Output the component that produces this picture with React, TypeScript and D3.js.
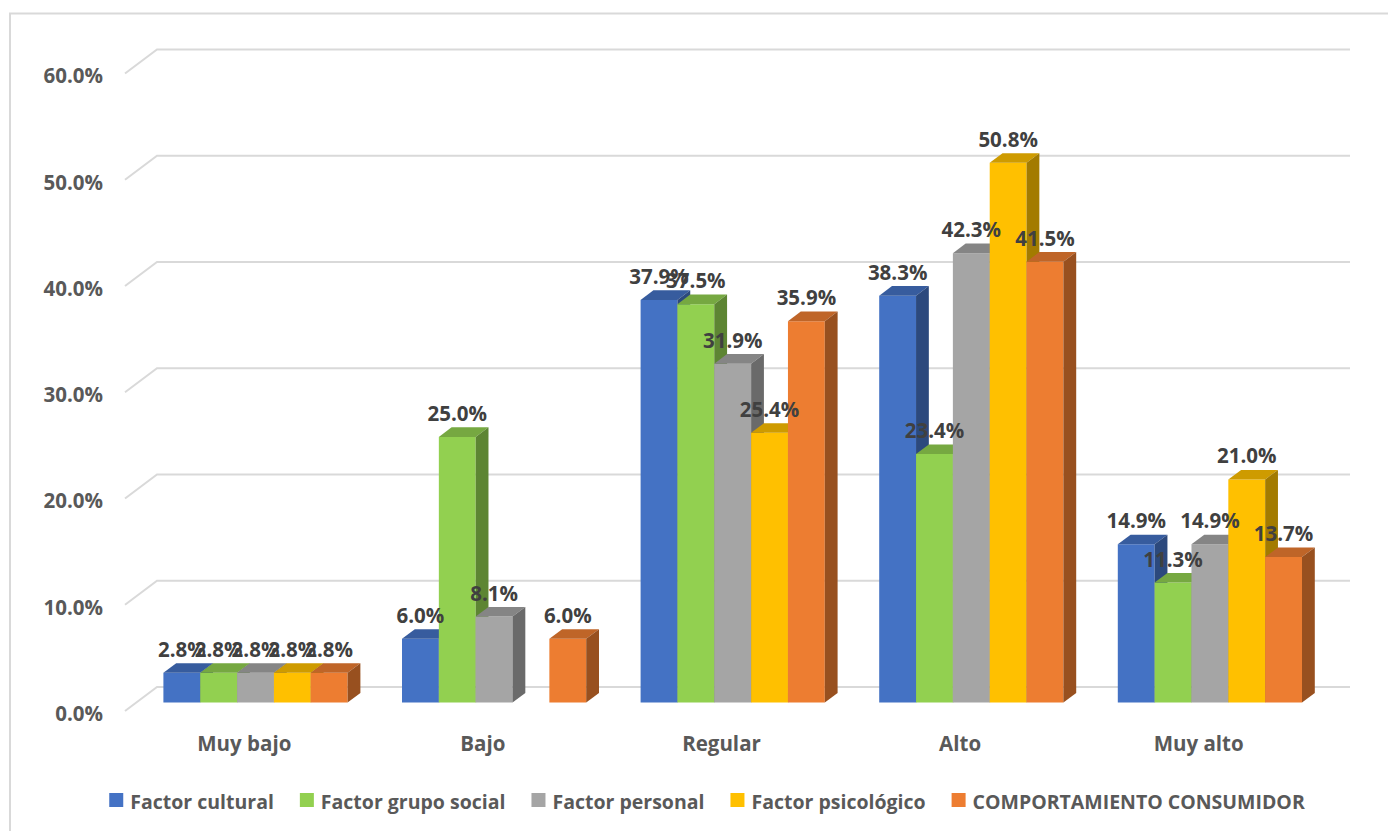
import React, { useMemo } from "react";
import * as d3 from "d3";

// Categories along the horizontal axis
const categories = ["Muy bajo", "Bajo", "Regular", "Alto", "Muy alto"];

// Series names (legend order)
const seriesNames = [
  "Factor cultural",
  "Factor grupo social",
  "Factor personal",
  "Factor psicológico",
  "COMPORTAMIENTO CONSUMIDOR",
];

// Percent values per series, one per category
const factorCultural = [2.8, 6.0, 37.9, 38.3, 14.9];
const factorGrupoSocial = [2.8, 25.0, 37.5, 23.4, 11.3];
const factorPersonal = [2.8, 8.1, 31.9, 42.3, 14.9];
const factorPsicologico = [2.8, 0, 25.4, 50.8, 21.0];
const comportamientoConsumidor = [2.8, 6.0, 35.9, 41.5, 13.7];

const seriesValues = [
  factorCultural,
  factorGrupoSocial,
  factorPersonal,
  factorPsicologico,
  comportamientoConsumidor,
];

const seriesColors = ["#4472C4", "#92D050", "#A5A5A5", "#FFC000", "#ED7D31"];

// Value axis ticks
const yTicks = [0, 10, 20, 30, 40, 50, 60];

const FONT = "'Open Sans', Lato, sans-serif";

function measure(text: string, font: string): number {
  const c = document.createElement("canvas");
  const ctx = c.getContext("2d");
  if (!ctx) return text.length * 10;
  ctx.font = font;
  return ctx.measureText(text).width;
}

export default function App() {
  const W = 1388;
  const H = 831;

  // oblique 3D projection: depth goes up and to the right
  const depthX = 32;
  const depthY = 24;
  const z0 = 0.35;
  const z1 = 0.75;
  const P = (px: number, py: number, z: number): [number, number] => [
    px + z * depthX,
    py - z * depthY,
  ];

  const y = d3.scaleLinear().domain([0, 60]).range([711, 73.5]);
  const x = d3.scaleBand<string>().domain(categories).range([125, 1318]);
  const bw = x.bandwidth();
  const barsSpan = bw * 0.772;
  const xi = d3
    .scaleBand<string>()
    .domain(seriesNames)
    .range([(bw - barsSpan) / 2, (bw + barsSpan) / 2]);
  const w = xi.bandwidth();

  const poly = (pts: [number, number][]) =>
    "M" + pts.map((p) => p[0].toFixed(2) + "," + p[1].toFixed(2)).join("L") + "Z";

  const bars: JSX.Element[] = [];
  const labels: JSX.Element[] = [];

  categories.forEach((cat, ci) => {
    seriesNames.forEach((name, si) => {
      const v = seriesValues[si][ci];
      if (!v) return;
      const L = (x(cat) as number) + (xi(name) as number);
      const R = L + w;
      const yt = y(v);
      const yb = y(0);
      const base = d3.color(seriesColors[si])!;
      const topC = base.darker(0.6).formatHex();
      const sideC = base.darker(1.25).formatHex();
      bars.push(
        <g key={`b-${ci}-${si}`}>
          <path
            d={poly([P(L, yt, z0), P(R, yt, z0), P(R, yb, z0), P(L, yb, z0)])}
            fill={seriesColors[si]}
          />
          <path
            d={poly([P(L, yt, z0), P(R, yt, z0), P(R, yt, z1), P(L, yt, z1)])}
            fill={topC}
          />
          <path
            d={poly([P(R, yt, z0), P(R, yt, z1), P(R, yb, z1), P(R, yb, z0)])}
            fill={sideC}
          />
        </g>
      );
      const [lx, ly] = P((L + R) / 2, yt, z0);
      labels.push(
        <text
          key={`l-${ci}-${si}`}
          x={lx}
          y={ly - 16}
          textAnchor="middle"
          fontFamily={FONT}
          fontWeight={700}
          fontSize={20.5}
          fill="#404040"
        >
          {v.toFixed(1) + "%"}
        </text>
      );
    });
  });

  // Legend layout
  const legendFontSize = 19.5;
  const legendFont = `bold ${legendFontSize}px 'Open Sans'`;
  const legend = useMemo(() => {
    const sq = 14;
    const gapSqText = 7;
    const gapItems = 26;
    const widths = seriesNames.map((n) => measure(n, legendFont));
    const total =
      widths.reduce((a, b) => a + b, 0) +
      seriesNames.length * (sq + gapSqText) +
      (seriesNames.length - 1) * gapItems;
    let cx = 707 - total / 2;
    return seriesNames.map((n, i) => {
      const item = { name: n, x: cx, color: seriesColors[i] };
      cx += sq + gapSqText + widths[i] + gapItems;
      return item;
    });
  }, [legendFont]);

  const grid = yTicks.map((t) => {
    const f: [number, number] = [125, y(t)];
    const bl = P(125, y(t), 1);
    const br = P(1318, y(t), 1);
    return `M${f[0]},${f[1]}L${bl[0]},${bl[1]}L${br[0]},${br[1]}`;
  });

  return (
    <svg
      width={W}
      height={H}
      viewBox={`0 0 ${W} ${H}`}
      style={{ position: "absolute", left: 0, top: 0, background: "#fff" }}
    >
      <rect x={0} y={0} width={W} height={H} fill="#fff" />
      <path d={`M10,${H}V13.5H${W}`} fill="none" stroke="#D9D9D9" strokeWidth={2} />

      <g>
        {grid.map((d, i) => (
          <path key={i} d={d} fill="none" stroke="#D9D9D9" strokeWidth={2} />
        ))}
      </g>

      <g>
        {yTicks.map((t) => (
          <text
            key={t}
            x={103}
            y={y(t) + 4.5}
            textAnchor="end"
            dominantBaseline="middle"
            fontFamily={FONT}
            fontWeight={700}
            fontSize={20.5}
            fill="#595959"
          >
            {t.toFixed(1) + "%"}
          </text>
        ))}
      </g>

      <g>{bars}</g>
      <g>{labels}</g>

      <g>
        {categories.map((c) => (
          <text
            key={c}
            x={(x(c) as number) + bw / 2}
            y={746}
            textAnchor="middle"
            dominantBaseline="middle"
            fontFamily={FONT}
            fontWeight={700}
            fontSize={20.5}
            fill="#595959"
          >
            {c}
          </text>
        ))}
      </g>

      <g>
        {legend.map((it) => (
          <g key={it.name}>
            <rect x={it.x} y={793} width={14} height={14} fill={it.color} />
            <text
              x={it.x + 21}
              y={808.5}
              fontFamily={FONT}
              fontWeight={700}
              fontSize={legendFontSize}
              fill="#595959"
            >
              {it.name}
            </text>
          </g>
        ))}
      </g>
    </svg>
  );
}
